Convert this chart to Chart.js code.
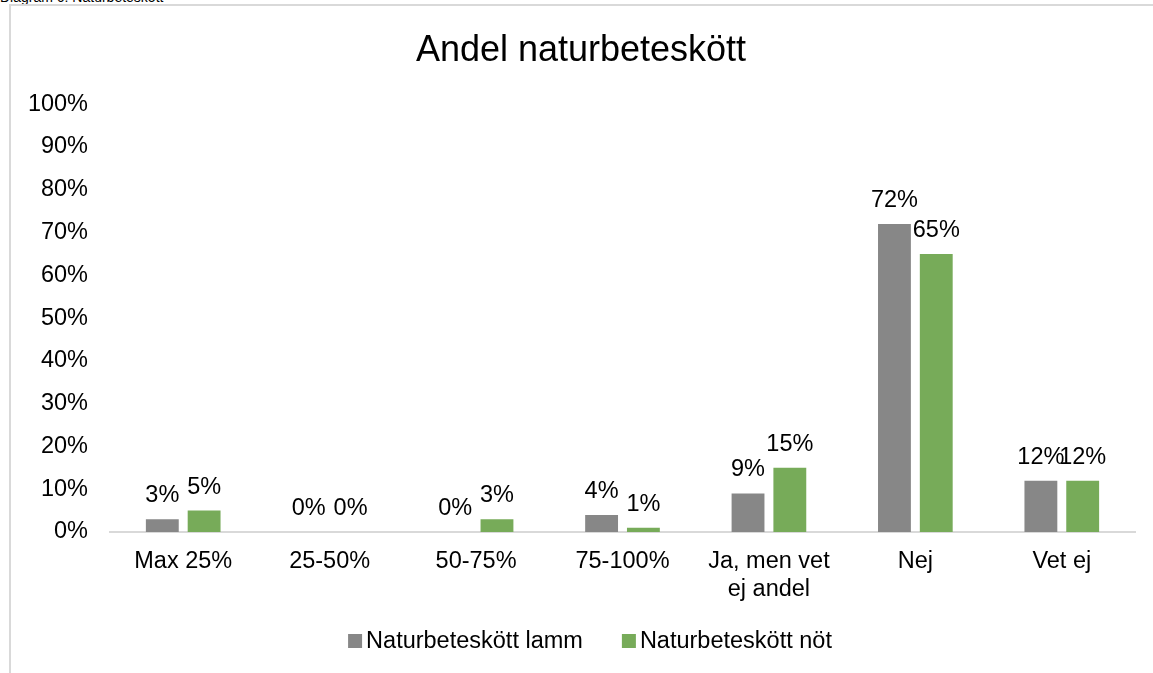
<!DOCTYPE html>
<html>
<head>
<meta charset="utf-8">
<script src="https://cdn.jsdelivr.net/npm/chart.js@4.4.0/dist/chart.umd.min.js"></script>
<style>
    html, body { margin: 0; padding: 0; background: #fff; overflow: hidden; }
    #caption {
        position: absolute; left: 0; top: -11px;
        font: 14px 'Liberation Sans', Arial, sans-serif; color: #000;
        white-space: nowrap;
    }
    #frame {
        position: absolute; left: 9px; top: 4px; width: 1200px; height: 700px;
        border-left: 2px solid #d9d9d9; border-top: 2px solid #d9d9d9;
    }
    #wrap { position: absolute; left: 0; top: 0; width: 1153px; height: 673px; }
</style>
</head>
<body>
<div id="caption">Diagram 6: Naturbeteskött</div>
<div id="frame"></div>
<div id="wrap"><canvas id="chart"></canvas></div>
<script>
// Chart data
const categories = ['Max 25%', '25-50%', '50-75%', '75-100%', ['Ja, men vet', 'ej andel'], 'Nej', 'Vet ej'];
const lammValues = [3, 0, 0, 4, 9, 72, 12];
const notValues = [5, 0, 3, 1, 15, 65, 12];
const yTicks = [0, 10, 20, 30, 40, 50, 60, 70, 80, 90, 100];

const FONT = "'Liberation Sans', Arial, sans-serif";
const LEGEND_CENTER_X = 590;
const LEGEND_Y = 641;

// Draws the percentage label above each bar
const barLabels = {
    id: 'barLabels',
    afterDatasetsDraw(chart) {
        const ctx = chart.ctx;
        ctx.save();
        ctx.font = '23.5px ' + FONT;
        ctx.fillStyle = '#000';
        ctx.textAlign = 'center';
        ctx.textBaseline = 'alphabetic';
        chart.data.datasets.forEach((ds, i) => {
            const meta = chart.getDatasetMeta(i);
            meta.data.forEach((bar, j) => {
                ctx.fillText(ds.data[j] + '%', bar.x, bar.y - 17);
            });
        });
        ctx.restore();
    }
};

// Excel-like legend: small square tight against its text
const tightLegend = {
    id: 'tightLegend',
    afterDraw(chart) {
        const ctx = chart.ctx;
        const box = 14, gap = 4, spacing = 39;
        ctx.save();
        ctx.font = '23.5px ' + FONT;
        ctx.textBaseline = 'middle';
        ctx.textAlign = 'left';
        const items = chart.data.datasets.map(ds => ({
            label: ds.label,
            color: ds.backgroundColor,
            w: ctx.measureText(ds.label).width
        }));
        let total = 0;
        items.forEach((it, i) => {
            total += box + gap + it.w + (i ? spacing : 0);
        });
        let x = LEGEND_CENTER_X - total / 2;
        items.forEach(it => {
            ctx.fillStyle = it.color;
            ctx.fillRect(x, LEGEND_Y - box / 2, box, box);
            ctx.fillStyle = '#000';
            ctx.fillText(it.label, x + box + gap, LEGEND_Y + 1);
            x += box + gap + it.w + spacing;
        });
        ctx.restore();
    }
};

document.addEventListener('DOMContentLoaded', function() {
    const ctx = document.getElementById('chart').getContext('2d');
    new Chart(ctx, {
        type: 'bar',
        data: {
            labels: categories,
            datasets: [{
                label: 'Naturbeteskött lamm',
                data: lammValues,
                backgroundColor: '#878787'
            }, {
                label: 'Naturbeteskött nöt',
                data: notValues,
                backgroundColor: '#77ab59'
            }]
        },
        options: {
            responsive: true,
            maintainAspectRatio: false,
            animation: false,
            datasets: {
                bar: { categoryPercentage: 0.571, barPercentage: 0.786 }
            },
            layout: {
                padding: { left: 27, right: 18, top: 10, bottom: 56 }
            },
            plugins: {
                title: {
                    display: true,
                    text: 'Andel naturbeteskött',
                    color: '#000',
                    font: { family: FONT, size: 36, weight: 'normal' },
                    padding: { top: 19, bottom: 32 }
                },
                legend: { display: false },
                tooltip: { enabled: false }
            },
            scales: {
                x: {
                    grid: { display: false, drawTicks: false },
                    border: { display: true, color: '#d9d9d9', width: 2 },
                    ticks: {
                        color: '#000',
                        font: { family: FONT, size: 23.5 },
                        padding: 15,
                        maxRotation: 0,
                        autoSkip: false
                    },
                    afterFit: function(scale) { scale.height = 85; }
                },
                y: {
                    min: 0,
                    max: 100,
                    afterBuildTicks: function(scale) {
                        scale.ticks = yTicks.map(v => ({ value: v }));
                    },
                    grid: { display: false, drawTicks: false },
                    border: { display: false },
                    ticks: {
                        color: '#000',
                        font: { family: FONT, size: 23.5 },
                        padding: 22,
                        callback: v => v + '%'
                    },
                    afterFit: function(scale) { scale.width = 83; }
                }
            }
        },
        plugins: [barLabels, tightLegend]
    });
});
</script>
</body>
</html>
